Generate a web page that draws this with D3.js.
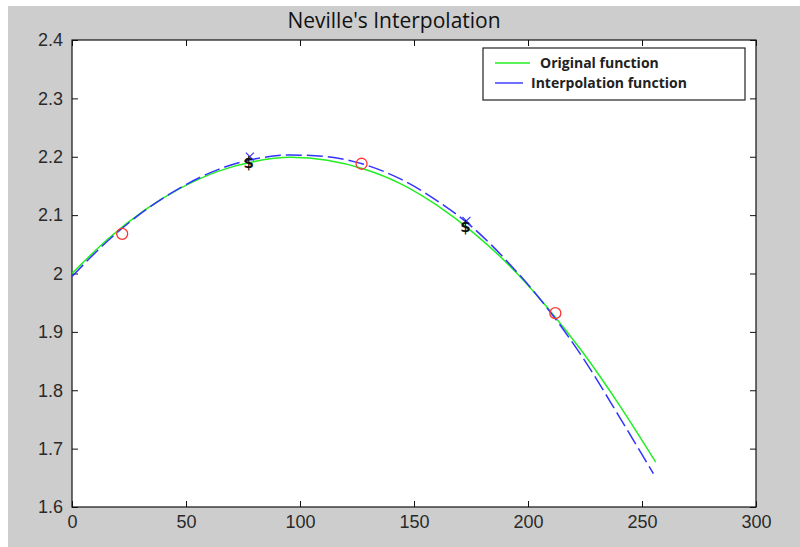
<!DOCTYPE html>
<html>
<head>
<meta charset="utf-8">
<script src="https://cdn.jsdelivr.net/npm/d3@7"></script>
<style>
  body { margin: 0; background: #fff; }
  svg { display: block; }
</style>
</head>
<body>
<svg id="chart" width="800" height="547"></svg>
<script>
var xOrig = [0, 16, 32, 48, 64, 80, 96, 112, 128, 144, 160, 176, 192, 208, 224, 240, 256]
var yOrig = [2.000, 2.060, 2.109, 2.147, 2.175, 2.192, 2.199, 2.194, 2.179, 2.154, 2.117, 2.070, 2.013, 1.944, 1.865, 1.775, 1.677]

// interpolation function (dashed blue)
var xInterp = [0, 16, 32, 48, 64, 80, 96, 112, 128, 144, 160, 176, 192, 208, 224, 240, 255]
var yInterp = [1.995, 2.057, 2.108, 2.148, 2.178, 2.196, 2.203, 2.200, 2.187, 2.162, 2.125, 2.078, 2.016, 1.943, 1.856, 1.755, 1.657]

// red circle points
var xCircles = [22, 127, 212]
var yCircles = [2.068, 2.188, 1.932]

// "$" points with blue x markers
var xNodes = [78, 173]
var yNodes = [2.19, 2.08]

var xTicks = [0, 50, 100, 150, 200, 250, 300]
var yTicks = [1.6, 1.7, 1.8, 1.9, 2, 2.1, 2.2, 2.3, 2.4]

var legendLabels = ["Original function", "Interpolation function"]
var legendColors = ["#22ee22", "#3333ff"]

var svg = d3.select("#chart")

// gray figure background
svg.append("rect").attr("x", 8).attr("y", 6).attr("width", 792).attr("height", 541)
    .attr("fill", "#cdcdcd")

var plotL = 72, plotR = 756, plotT = 40, plotB = 507

var x = d3.scaleLinear().domain([0, 300]).range([plotL, plotR])
var y = d3.scaleLinear().domain([1.6, 2.4]).range([plotB, plotT])

svg.append("rect").attr("x", plotL).attr("y", plotT)
    .attr("width", plotR - plotL).attr("height", plotB - plotT)
    .attr("fill", "#fff")

var fmt = function(d) { return String(+d.toFixed(1)) }
var tickFont = "'Liberation Sans', Arial, sans-serif"

function styleAxis(g, hide) {
    g.select(".domain").remove()
    g.selectAll(".tick line").attr("stroke", "#111")
    g.selectAll(".tick text").attr("fill", "#2a2a2a")
        .attr("font-family", tickFont).attr("font-size", 18)
    if (hide) g.selectAll(".tick text").remove()
}

svg.append("g").attr("transform", "translate(0," + plotB + ")")
    .call(d3.axisBottom(x).tickValues(xTicks).tickFormat(fmt).tickSizeInner(-6).tickSizeOuter(0).tickPadding(8))
    .call(styleAxis, false)
svg.append("g").attr("transform", "translate(0," + plotT + ")")
    .call(d3.axisTop(x).tickValues(xTicks).tickSizeInner(-6).tickSizeOuter(0))
    .call(styleAxis, true)
svg.append("g").attr("transform", "translate(" + plotL + ",0)")
    .call(d3.axisLeft(y).tickValues(yTicks).tickFormat(fmt).tickSizeInner(-6).tickSizeOuter(0).tickPadding(9))
    .call(styleAxis, false)
svg.append("g").attr("transform", "translate(" + plotR + ",0)")
    .call(d3.axisRight(y).tickValues(yTicks).tickSizeInner(-6).tickSizeOuter(0))
    .call(styleAxis, true)

// box
svg.append("rect").attr("x", plotL).attr("y", plotT)
    .attr("width", plotR - plotL).attr("height", plotB - plotT)
    .attr("fill", "none").attr("stroke", "#111").attr("stroke-width", 1.2)

// lines
var line = d3.line().curve(d3.curveMonotoneX)
    .x(function(d) { return x(d[0]) }).y(function(d) { return y(d[1]) })

svg.append("path")
    .datum(d3.zip(xOrig, yOrig))
    .attr("d", line)
    .attr("fill", "none").attr("stroke", legendColors[0]).attr("stroke-width", 1.5)

svg.append("path")
    .datum(d3.zip(xInterp, yInterp))
    .attr("d", line)
    .attr("fill", "none").attr("stroke", legendColors[1]).attr("stroke-width", 1.5)
    .attr("stroke-dasharray", "16,5")

// red circles
svg.selectAll(".circ").data(d3.zip(xCircles, yCircles)).join("circle")
    .attr("class", "circ")
    .attr("cx", function(d) { return x(d[0]) })
    .attr("cy", function(d) { return y(d[1]) })
    .attr("r", 5.5)
    .attr("fill", "none").attr("stroke", "#ff3333").attr("stroke-width", 1.3)

// blue x markers and "$" labels
var nodes = d3.zip(xNodes, yNodes)
svg.selectAll(".xm").data(nodes).join("path")
    .attr("class", "xm")
    .attr("d", function(d) {
        var cx = x(d[0]), cy = y(d[1]) - 6
        return "M" + (cx - 4) + "," + (cy - 4) + "L" + (cx + 4) + "," + (cy + 4) +
            "M" + (cx + 4) + "," + (cy - 4) + "L" + (cx - 4) + "," + (cy + 4)
    })
    .attr("stroke", "#3333ff").attr("stroke-width", 1.2).attr("fill", "none")

svg.selectAll(".dol").data(nodes).join("text")
    .attr("class", "dol")
    .attr("x", function(d) { return x(d[0]) - 1 })
    .attr("y", function(d) { return y(d[1]) + 5 })
    .attr("text-anchor", "middle")
    .attr("font-family", "'DejaVu Sans', sans-serif")
    .attr("font-weight", "bold")
    .attr("font-size", 15).attr("fill", "#111")
    .text("$")

// title
svg.append("text").attr("x", 394).attr("y", 28)
    .attr("text-anchor", "middle")
    .attr("font-family", "'Open Sans', sans-serif")
    .attr("font-size", 21).attr("fill", "#111")
    .text("Neville's Interpolation")

// legend
var lg = svg.append("g")
lg.append("rect").attr("x", 483).attr("y", 48).attr("width", 262).attr("height", 52)
    .attr("fill", "#fff").attr("stroke", "#222").attr("stroke-width", 1.2)

var legX1 = [495, 495], legX2 = [530, 523], legTx = [540, 531], legY = [63, 83]
legendLabels.forEach(function(label, i) {
    lg.append("line").attr("x1", legX1[i]).attr("x2", legX2[i])
        .attr("y1", legY[i]).attr("y2", legY[i])
        .attr("stroke", legendColors[i]).attr("stroke-width", 1.4)
    lg.append("text").attr("x", legTx[i]).attr("y", legY[i] + 5)
        .attr("font-family", "'Open Sans', sans-serif")
        .attr("font-weight", "bold").attr("font-size", 14)
        .attr("fill", "#222")
        .text(label)
})
</script>
</body>
</html>
